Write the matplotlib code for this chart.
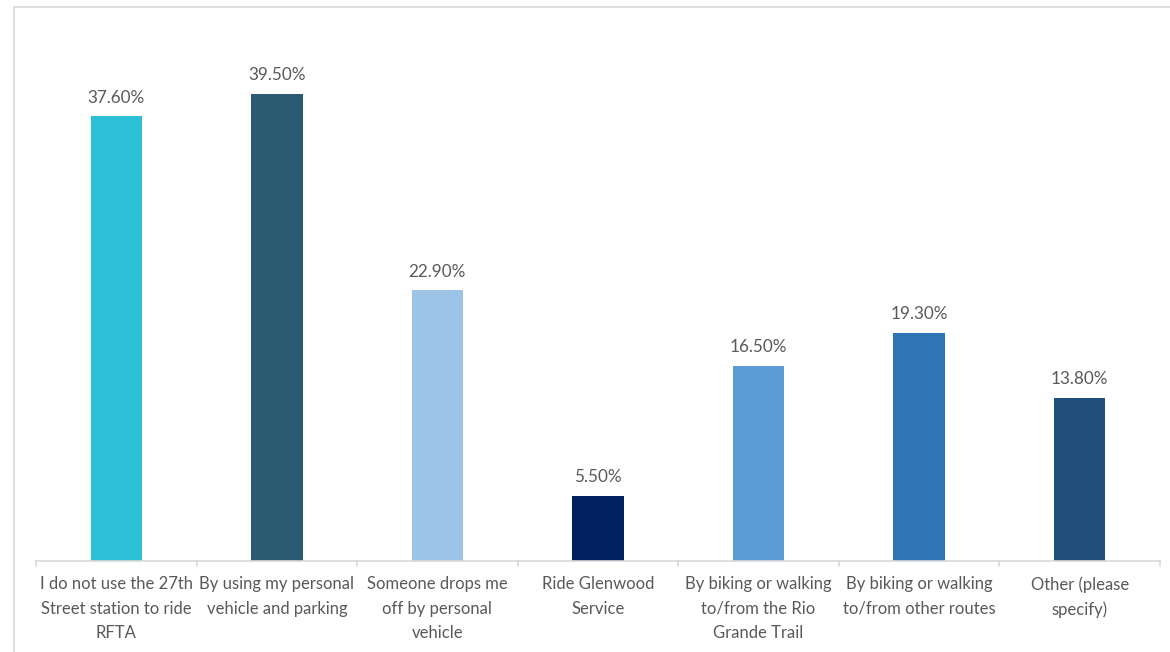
import matplotlib.pyplot as plt
from matplotlib.lines import Line2D

# Data
categories = [
    "I do not use the 27th\nStreet station to ride\nRFTA",
    "By using my personal\nvehicle and parking",
    "Someone drops me\noff by personal\nvehicle",
    "Ride Glenwood\nService",
    "By biking or walking\nto/from the Rio\nGrande Trail",
    "By biking or walking\nto/from other routes",
    "Other (please\nspecify)",
]
values = [37.6, 39.5, 22.9, 5.5, 16.5, 19.3, 13.8]
colors = ["#2BC0D5", "#2B5B72", "#9DC3E6", "#002060", "#5B9BD5", "#2E75B6", "#1F4E79"]

plt.rcParams['font.family'] = ['Lato', 'DejaVu Sans']
text_color = "#595959"
grid_color = "#D9D9D9"

fig = plt.figure(figsize=(11.7, 6.52), dpi=100)
ax = fig.add_axes([36 / 1170, 1 - 561 / 652, 1124 / 1170, 532 / 652])

x = range(len(categories))
bars = ax.bar(x, values, width=0.32, color=colors)

for xi, v in zip(x, values):
    ax.text(xi, v + 0.9, f"{v:.2f}%", ha='center', va='bottom',
            fontsize=12.3, color=text_color)

ax.set_xlim(-0.5, len(categories) - 0.5)
ax.set_ylim(0, 45)
ax.set_yticks([])
ax.set_xticks(list(x))
ax.set_xticklabels(categories, fontsize=12, color=text_color, linespacing=1.65)
ax.tick_params(axis='x', length=0, pad=11)

# tick marks between categories
for b in [i - 0.5 for i in range(len(categories) + 1)]:
    ax.plot([b, b], [0, -0.45], color=grid_color, lw=1.2, clip_on=False)

for s in ['top', 'right', 'left']:
    ax.spines[s].set_visible(False)
ax.spines['bottom'].set_color(grid_color)
ax.spines['bottom'].set_linewidth(1.2)

# chart area border
fig.add_artist(Line2D([13.5 / 1170, 13.5 / 1170], [0, 1 - 6.5 / 652],
                      transform=fig.transFigure, color=grid_color, lw=1.2))
fig.add_artist(Line2D([13.5 / 1170, 1], [1 - 6.5 / 652, 1 - 6.5 / 652],
                      transform=fig.transFigure, color=grid_color, lw=1.2))

fig.savefig("out.png", dpi=100, facecolor="white")
